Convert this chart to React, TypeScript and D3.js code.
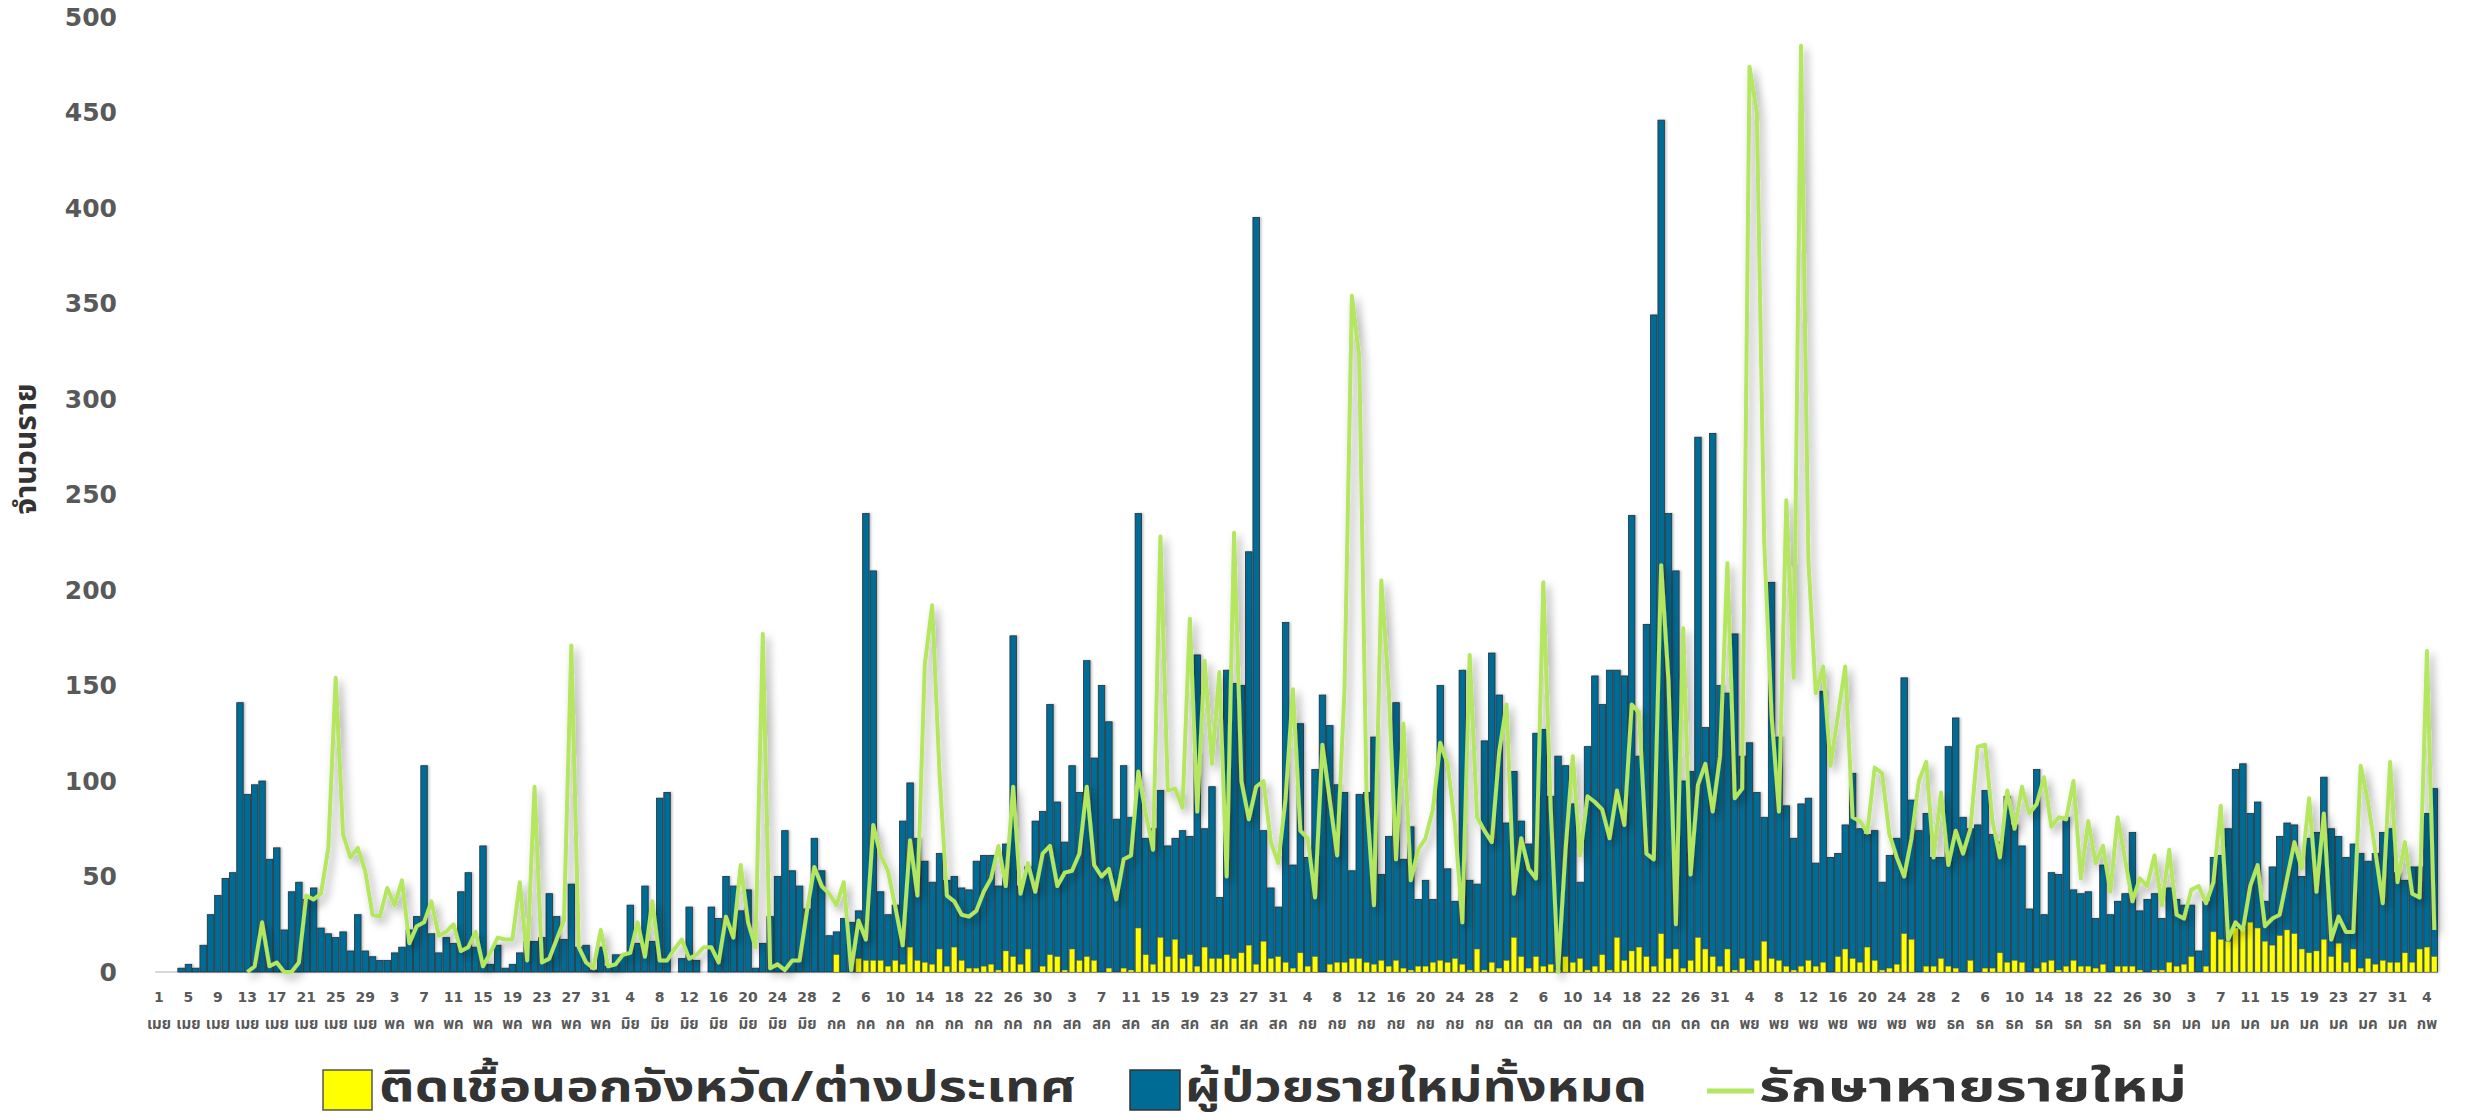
import React from "react";
import * as d3 from "d3";

// ผู้ป่วยรายใหม่ทั้งหมด (daily new cases), 1 Apr .. 5 Feb
const totalNew: number[] = [
  0, 0, 0, 2, 4, 2, 14, 30, 40, 49,
  52, 141, 93, 98, 100, 59, 65, 22, 42, 47,
  38, 44, 23, 20, 18, 21, 11, 30, 11, 8,
  6, 6, 10, 13, 22, 29, 108, 20, 10, 18,
  15, 42, 52, 13, 66, 4, 14, 2, 4, 10,
  16, 16, 18, 41, 29, 17, 46, 13, 14, 1,
  13, 3, 9, 9, 35, 15, 45, 16, 91, 94,
  0, 7, 34, 6, 0, 34, 28, 50, 45, 32,
  43, 2, 15, 29, 50, 74, 53, 45, 33, 70,
  53, 19, 21, 28, 26, 32, 240, 210, 42, 30,
  35, 79, 99, 70, 58, 47, 62, 48, 50, 44,
  43, 58, 61, 61, 45, 67, 176, 45, 55, 79,
  84, 140, 89, 68, 108, 94, 163, 112, 150, 131,
  80, 108, 81, 240, 70, 75, 95, 66, 70, 74,
  71, 166, 75, 97, 39, 158, 151, 150, 220, 395,
  74, 44, 34, 183, 56, 130, 60, 106, 145, 129,
  98, 94, 53, 93, 94, 123, 51, 71, 141, 59,
  76, 38, 48, 38, 150, 54, 37, 158, 48, 46,
  121, 167, 145, 78, 105, 79, 67, 125, 127, 92,
  113, 108, 88, 47, 118, 155, 140, 158, 158, 155,
  239, 113, 182, 344, 446, 240, 210, 100, 105, 280,
  128, 282, 150, 146, 177, 113, 120, 94, 81, 204,
  123, 87, 70, 88, 91, 57, 147, 60, 62, 77,
  104, 75, 72, 74, 47, 61, 70, 154, 90, 74,
  83, 60, 60, 118, 133, 81, 75, 77, 95, 72,
  68, 92, 77, 66, 33, 106, 30, 52, 51, 81,
  43, 41, 42, 28, 56, 30, 37, 41, 73, 32,
  38, 41, 28, 44, 38, 35, 35, 11, 37, 60,
  61, 75, 106, 109, 83, 89, 37, 55, 71, 78,
  77, 50, 70, 73, 102, 75, 71, 60, 67, 62,
  58, 62, 73, 75, 52, 48, 55, 55, 83, 96,
];

// ติดเชื้อนอกจังหวัด/ต่างประเทศ
const outsideNew: number[] = [
  0, 0, 0, 0, 0, 0, 0, 0, 0, 0,
  0, 0, 0, 0, 0, 0, 0, 0, 0, 0,
  0, 0, 0, 0, 0, 0, 0, 0, 0, 0,
  0, 0, 0, 0, 0, 0, 0, 0, 0, 0,
  0, 0, 0, 0, 0, 0, 0, 0, 0, 0,
  0, 0, 0, 0, 0, 0, 0, 0, 0, 0,
  0, 0, 0, 0, 0, 0, 0, 0, 0, 0,
  0, 0, 0, 0, 0, 0, 0, 0, 0, 0,
  0, 0, 0, 0, 0, 0, 0, 0, 0, 0,
  0, 0, 9, 0, 0, 7, 6, 6, 6, 3,
  6, 4, 13, 6, 5, 4, 12, 3, 13, 6,
  2, 2, 3, 4, 1, 11, 8, 4, 12, 0,
  3, 9, 8, 1, 12, 6, 8, 6, 0, 2,
  0, 2, 1, 23, 9, 4, 18, 8, 17, 7,
  9, 3, 13, 7, 7, 9, 7, 10, 14, 4,
  16, 7, 8, 5, 2, 10, 3, 8, 0, 4,
  5, 5, 7, 7, 5, 4, 6, 3, 6, 2,
  1, 3, 3, 5, 6, 5, 7, 4, 1, 12,
  1, 5, 2, 6, 18, 8, 2, 8, 3, 4,
  1, 8, 5, 7, 1, 3, 9, 1, 18, 6,
  11, 13, 8, 3, 20, 7, 12, 2, 6, 18,
  12, 8, 3, 12, 1, 7, 1, 6, 16, 7,
  6, 3, 1, 3, 6, 3, 5, 0, 8, 12,
  7, 5, 13, 6, 1, 2, 4, 20, 17, 0,
  3, 3, 7, 3, 2, 0, 6, 0, 2, 2,
  10, 5, 6, 5, 0, 2, 5, 6, 1, 3,
  6, 3, 3, 2, 4, 0, 3, 3, 3, 1,
  0, 1, 1, 5, 3, 4, 8, 0, 3, 21,
  17, 16, 23, 23, 26, 23, 16, 14, 19, 22,
  20, 12, 10, 11, 17, 8, 15, 5, 12, 2,
  7, 4, 6, 5, 5, 10, 5, 12, 13, 8,
];

// รักษาหายรายใหม่
const recoveredNew: (number | null)[] = [
  null, null, null, null, null, null, null, null, null, null,
  null, null, 0, 3, 26, 3, 5, 0, 0, 5,
  40, 38, 41, 65, 154, 72, 60, 65, 53, 30,
  29, 44, 35, 48, 15, 24, 26, 37, 19, 21,
  25, 11, 13, 21, 3, 10, 18, 17, 17, 47,
  6, 97, 5, 7, 17, 27, 171, 13, 5, 2,
  22, 3, 4, 9, 10, 26, 8, 37, 6, 6,
  12, 17, 7, 9, 13, 13, 5, 29, 18, 56,
  26, 13, 177, 2, 4, 1, 6, 6, 32, 55,
  45, 41, 35, 47, 1, 27, 17, 77, 61, 53,
  34, 14, 69, 40, 161, 192, 104, 40, 37, 30,
  29, 32, 42, 49, 66, 45, 97, 41, 57, 42,
  62, 66, 45, 52, 53, 62, 97, 56, 50, 54,
  38, 59, 61, 105, 83, 64, 228, 95, 96, 86,
  185, 84, 163, 109, 157, 50, 230, 100, 80, 97,
  100, 68, 57, 91, 148, 74, 70, 39, 119, 90,
  61, 148, 354, 322, 91, 35, 205, 148, 59, 130,
  48, 64, 70, 85, 120, 109, 77, 26, 166, 81,
  74, 68, 115, 140, 41, 70, 54, 49, 204, 86,
  0, 63, 113, 61, 92, 89, 85, 70, 95, 77,
  140, 136, 62, 59, 213, 152, 25, 180, 51, 98,
  109, 84, 113, 214, 91, 96, 474, 450, 225, 134,
  84, 247, 154, 485, 215, 146, 160, 108, 134, 160,
  81, 79, 73, 107, 104, 72, 60, 50, 70, 100,
  110, 60, 94, 56, 74, 62, 75, 118, 119, 79,
  60, 95, 75, 97, 83, 88, 102, 76, 81, 80,
  100, 49, 79, 57, 66, 42, 81, 59, 37, 49,
  45, 61, 35, 64, 30, 28, 43, 45, 36, 47,
  87, 17, 26, 22, 45, 56, 24, 28, 30, 49,
  68, 54, 91, 42, 83, 17, 29, 21, 21, 108,
  89, 63, 36, 110, 47, 68, 41, 39, 168, 22,
];

// Tick labels (every 4th category)
const tickDays: string[] = [
  "1", "5", "9", "13", "17", "21", "25", "29",
  "3", "7", "11", "15", "19", "23", "27", "31",
  "4", "8", "12", "16", "20", "24", "28",
  "2", "6", "10", "14", "18", "22", "26", "30",
  "3", "7", "11", "15", "19", "23", "27", "31",
  "4", "8", "12", "16", "20", "24", "28",
  "2", "6", "10", "14", "18", "22", "26", "31",
  "4", "8", "12", "16", "20", "24", "28",
  "2", "6", "10", "14", "18", "22", "26", "30",
  "3", "7", "11", "15", "19", "23", "27", "31",
  "4",
];
const tickMonths: string[] = [
  "เมย", "เมย", "เมย", "เมย", "เมย", "เมย", "เมย", "เมย",
  "พค", "พค", "พค", "พค", "พค", "พค", "พค", "พค",
  "มิย", "มิย", "มิย", "มิย", "มิย", "มิย", "มิย",
  "กค", "กค", "กค", "กค", "กค", "กค", "กค", "กค",
  "สค", "สค", "สค", "สค", "สค", "สค", "สค", "สค",
  "กย", "กย", "กย", "กย", "กย", "กย", "กย",
  "ตค", "ตค", "ตค", "ตค", "ตค", "ตค", "ตค", "ตค",
  "พย", "พย", "พย", "พย", "พย", "พย", "พย",
  "ธค", "ธค", "ธค", "ธค", "ธค", "ธค", "ธค", "ธค",
  "มค", "มค", "มค", "มค", "มค", "มค", "มค", "มค",
  "กพ",
];
const yTicks: number[] = [0, 50, 100, 150, 200, 250, 300, 350, 400, 450, 500];

const seriesNames = ["ติดเชื้อนอกจังหวัด/ต่างประเทศ", "ผู้ป่วยรายใหม่ทั้งหมด", "รักษาหายรายใหม่"];
const yTitle = "จำนวนราย";

const W = 2466;
const H = 1119;
const PX0 = 155.3;
const PX1 = 2438;
const PY0 = 972;
const PY1 = 17;

const BLUE = "#006c95";
const YELLOW = "#ffff00";
const GREEN = "#b4e661";
const GRAY = "#595959";
const THAI = "'Noto Sans Thai', 'Noto Sans Thai UI', 'Noto Sans', 'DejaVu Sans', sans-serif";
const NUM = "'DejaVu Sans', 'Liberation Sans', sans-serif";

export default function App() {
  const idx = d3.range(totalNew.length);
  const x = d3.scaleBand<number>().domain(idx).range([PX0, PX1]).paddingInner(0).paddingOuter(0);
  const y = d3.scaleLinear().domain([0, 500]).range([PY0, PY1]);
  const bw = x.bandwidth();
  const blueW = bw * 0.88;
  const yelW = bw * 0.72;
  const cx = (i: number) => (x(i) as number) + bw / 2;

  const linePath = d3
    .line<number | null>()
    .defined((d) => d != null)
    .x((_, i) => cx(i))
    .y((d) => y(d as number))
    .curve(d3.curveLinear)(recoveredNew) as string;

  const legendFont = 42;
  const legendY = 1088;

  return (
    <svg
      width={W}
      height={H}
      viewBox={`0 0 ${W} ${H}`}
      style={{ position: "absolute", left: 0, top: 0, background: "#fff" }}
    >
      <defs>
        <filter id="shadow" x="-5%" y="-5%" width="110%" height="115%">
          <feDropShadow dx="4" dy="5" stdDeviation="4" floodColor="#000" floodOpacity="0.35" />
        </filter>
        <filter id="barshadow" x="-20%" y="-5%" width="140%" height="110%">
          <feDropShadow dx="1.5" dy="0" stdDeviation="1" floodColor="#000" floodOpacity="0.25" />
        </filter>
      </defs>
      <rect x={0} y={0} width={W} height={H} fill="#fff" />

      {/* y tick labels */}
      {yTicks.map((t) => (
        <text
          key={t}
          x={117}
          y={y(t)}
          textAnchor="end"
          dominantBaseline="central"
          fontFamily={NUM}
          fontWeight="bold"
          fontSize={25}
          fill={GRAY}
        >
          {t}
        </text>
      ))}

      {/* y title */}
      <text
        transform={`translate(27, 449) rotate(-90)`}
        textAnchor="middle"
        dominantBaseline="central"
        fontFamily={THAI}
        fontWeight="bold"
        fontSize={30}
        fill="#333"
      >
        {yTitle}
      </text>

      {/* baseline */}
      <line x1={PX0} x2={PX1} y1={PY0} y2={PY0} stroke="#d9d9d9" strokeWidth={2} />

      {/* blue bars */}
      <g filter="url(#barshadow)">
        {totalNew.map((v, i) =>
          v > 0 ? (
            <rect
              key={"b" + i}
              x={cx(i) - blueW / 2}
              y={y(v)}
              width={blueW}
              height={PY0 - y(v)}
              fill={BLUE}
              stroke="#23313a"
              strokeWidth={0.8}
            />
          ) : null
        )}
      </g>

      {/* yellow bars */}
      {outsideNew.map((v, i) =>
        v > 0 ? (
          <rect
            key={"y" + i}
            x={cx(i) - yelW / 2}
            y={y(v)}
            width={yelW}
            height={PY0 - y(v)}
            fill={YELLOW}
            stroke="#8a8a30"
            strokeWidth={0.4}
          />
        ) : null
      )}

      {/* recovered line */}
      <path
        d={linePath}
        fill="none"
        stroke={GREEN}
        strokeWidth={4}
        strokeLinejoin="round"
        filter="url(#shadow)"
      />

      {/* x tick labels */}
      {tickDays.map((d, k) => {
        const i = k * 4;
        return (
          <g key={"t" + k}>
            <text
              x={cx(i)}
              y={997}
              textAnchor="middle"
              dominantBaseline="central"
              fontFamily={NUM}
              fontWeight="bold"
              fontSize={14}
              fill={GRAY}
            >
              {d}
            </text>
            <text
              x={cx(i)}
              y={1024}
              textAnchor="middle"
              dominantBaseline="central"
              fontFamily={THAI}
              fontWeight="bold"
              fontSize={15}
              fill={GRAY}
            >
              {tickMonths[k]}
            </text>
          </g>
        );
      })}

      {/* legend */}
      <rect x={323} y={1070} width={49} height={40} fill={YELLOW} stroke="#555" strokeWidth={1.5} />
      <text
        x={379}
        y={legendY}
        dominantBaseline="central"
        fontFamily={THAI}
        fontWeight="bold"
        fontSize={legendFont}
        textLength={697}
        lengthAdjust="spacingAndGlyphs"
        fill="#333"
      >
        {seriesNames[0]}
      </text>
      <rect x={1130} y={1070} width={50} height={40} fill={BLUE} stroke="#333" strokeWidth={1.5} />
      <text
        x={1185}
        y={legendY}
        dominantBaseline="central"
        fontFamily={THAI}
        fontWeight="bold"
        fontSize={legendFont}
        textLength={462}
        lengthAdjust="spacingAndGlyphs"
        fill="#333"
      >
        {seriesNames[1]}
      </text>
      <line x1={1707} x2={1754} y1={1091} y2={1091} stroke={GREEN} strokeWidth={5} />
      <text
        x={1759}
        y={legendY}
        dominantBaseline="central"
        fontFamily={THAI}
        fontWeight="bold"
        fontSize={legendFont}
        textLength={428}
        lengthAdjust="spacingAndGlyphs"
        fill="#333"
      >
        {seriesNames[2]}
      </text>
    </svg>
  );
}
